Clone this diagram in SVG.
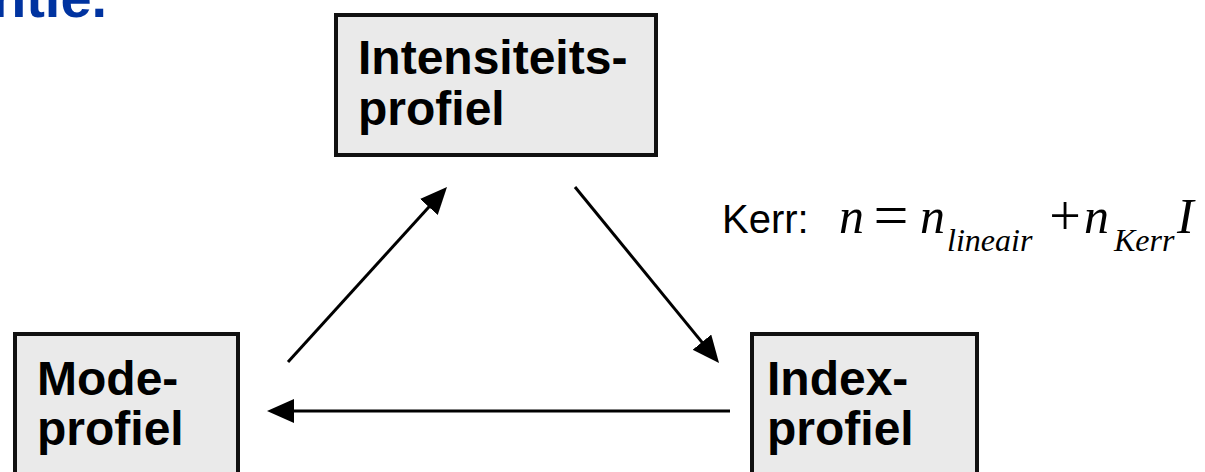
<svg xmlns="http://www.w3.org/2000/svg" width="1205" height="472" viewBox="0 0 1205 472">
<style>
.box{fill:#eaeaea;stroke:#111;stroke-width:4}
.lbl{font-family:"Liberation Sans",Arial,sans-serif;font-weight:bold;font-size:48px;fill:#000}
.conn{stroke:#000;stroke-width:3;fill:none;marker-end:url(#ah)}
.kerr{font-family:"Liberation Sans",Arial,sans-serif;font-size:40px;fill:#000}
.mi{font-family:"Liberation Serif","Times New Roman",serif;font-style:italic;fill:#000}
.mo{font-family:"Liberation Serif","Times New Roman",serif;fill:#000}
.title{font-family:"Liberation Sans",Arial,sans-serif;font-weight:bold;font-size:56px;fill:#0033a0}
</style>
<defs>
<marker id="ah" markerUnits="userSpaceOnUse" markerWidth="28" markerHeight="26" refX="20" refY="12" orient="auto">
<path d="M0,0 L27,12 L0,24 z" fill="#000"/>
</marker>
</defs>
<rect width="1205" height="472" fill="#fff"/>
<text class="title" x="-8" y="17">ntie.</text>
<g id="connectors">
<line class="conn" x1="288" y1="362" x2="442.3" y2="192.2"/>
<line class="conn" x1="575" y1="187" x2="714.6" y2="357.6"/>
<line class="conn" x1="730" y1="411" x2="274" y2="411"/>
</g>
<g id="intensiteitsprofiel">
<rect class="box" x="336" y="15" width="320" height="140"/>
<text class="lbl" x="358" y="74">Intensiteits-</text>
<text class="lbl" x="358" y="125">profiel</text>
</g>
<g id="modeprofiel">
<rect class="box" x="15" y="334" width="223" height="200"/>
<text class="lbl" x="37" y="395">Mode-</text>
<text class="lbl" x="37" y="445">profiel</text>
</g>
<g id="indexprofiel">
<rect class="box" x="752" y="334" width="225" height="200"/>
<text class="lbl" x="767" y="395">Index-</text>
<text class="lbl" x="767" y="445">profiel</text>
</g>
<g id="kerr-label">
<text class="kerr" x="722" y="233">Kerr:</text>
<text class="mi" x="839" y="233" font-size="50">n</text>
<text class="mo" x="891" y="236" font-size="62" text-anchor="middle">=</text>
<text class="mi" x="920" y="233" font-size="50">n</text>
<text class="mi" x="947" y="251" font-size="32">lineair</text>
<text class="mo" x="1065" y="235" font-size="56" text-anchor="middle">+</text>
<text class="mi" x="1084" y="233" font-size="50">n</text>
<text class="mi" x="1114" y="251" font-size="32">Kerr</text>
<text class="mi" x="1177" y="233" font-size="50">I</text>
</g>
</svg>
